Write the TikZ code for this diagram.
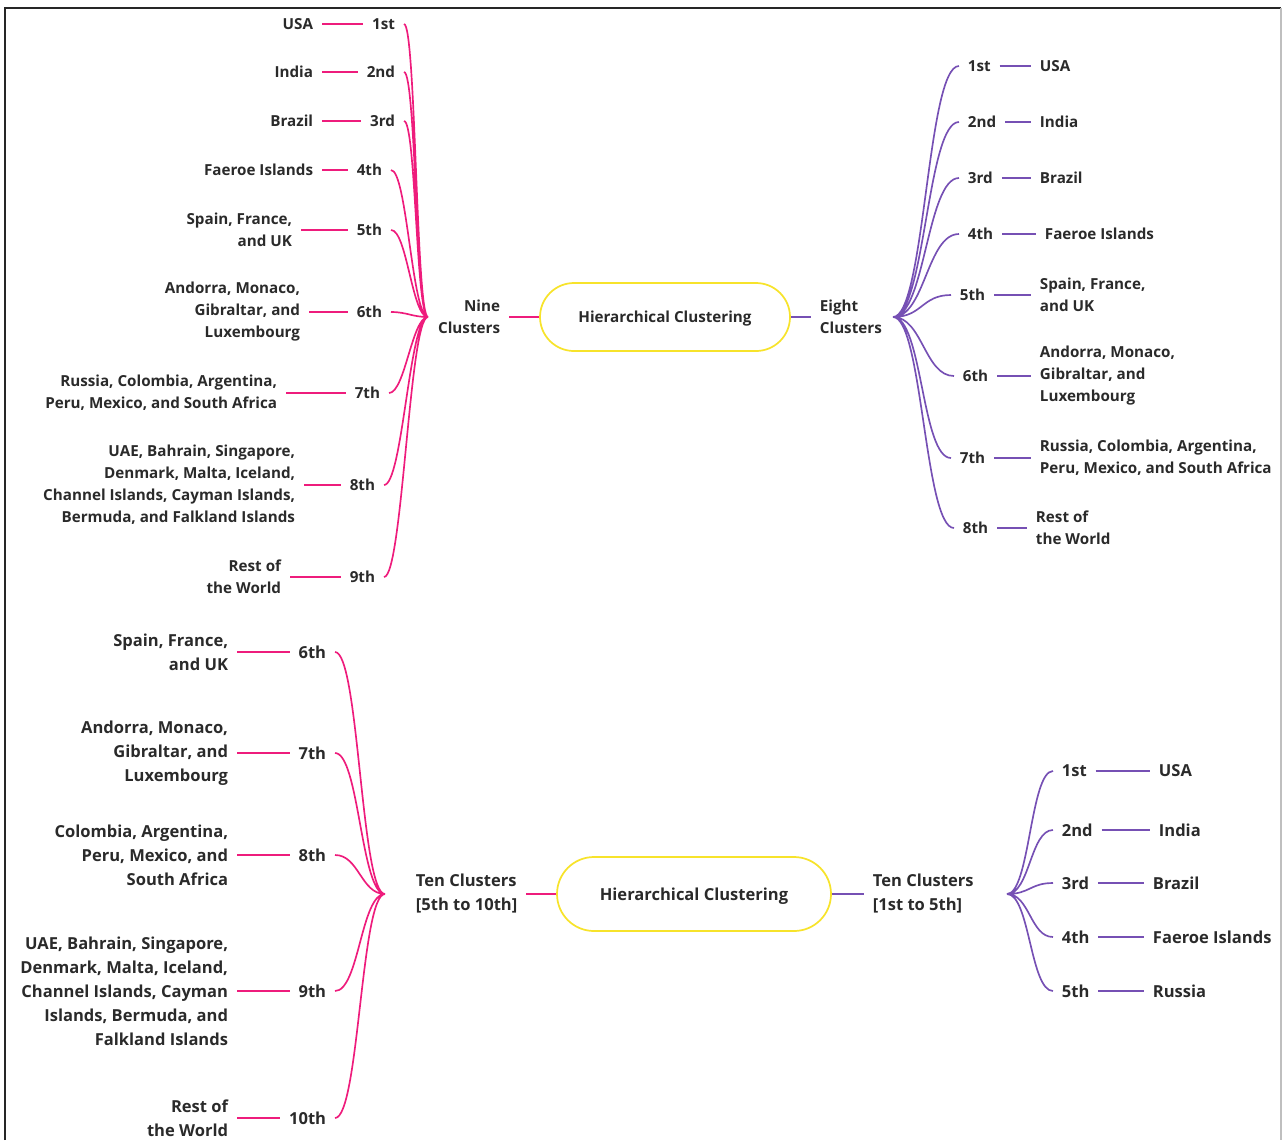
\documentclass[tikz,border=0pt]{standalone}
\usepackage{fontspec}
\setmainfont{Open Sans}
\usepackage{xcolor}
\definecolor{pinkline}{HTML}{EE1C7C}
\definecolor{purpline}{HTML}{7650B4}
\definecolor{hcyellow}{HTML}{F7E32B}
\definecolor{inkdark}{HTML}{2A2A2A}
\usepackage{tikz}
\usetikzlibrary{positioning}

\begin{document}
\begin{tikzpicture}[x=0.75pt, y=-0.75pt,
    lbl/.style={font=\bfseries\fontsize{11.4}{16.5}\selectfont, text=inkdark, inner xsep=6.5pt, inner ysep=2pt},
    lblbig/.style={lbl, font=\bfseries\fontsize{12.4}{18}\selectfont},
    hcnode/.style={draw=hcyellow, line width=1.3pt, inner sep=0pt, text=inkdark, text depth=0pt},
    pinkedge/.style={draw=pinkline, line width=1.25pt},
    purpedge/.style={draw=purpline, line width=1.25pt},
    fanl/.style={out=180, in=0, distance=#1},
    fanr/.style={out=0, in=180, distance=#1}]
  \useasboundingbox (0,0) rectangle (1282,1140);
  \draw[black!85, line width=0.9pt] (5,1140) -- (5,8) -- (1281,8);
  \draw[black!25, line width=0.9pt] (1281,8) -- (1281,1140);

  % Top: nine clusters (left) and eight clusters (right)
  \node[hcnode, lbl, rounded corners=25.5pt, minimum width=187.5pt, minimum height=51pt] (hc1) at (665,317) {Hierarchical Clustering};
  \node[lbl, anchor=east, align=right] (nine) at (509,317) {Nine\\Clusters};
  \node[lbl, anchor=west, align=left] (eight) at (811,317) {Eight\\Clusters};
  \coordinate (h9) at (428,317);
  \coordinate (h8) at (893,317);
  \draw[pinkedge] (nine.east) -- (hc1.west);
  \draw[purpedge] (hc1.east) -- (eight.west);

  \node[lbl, anchor=east] (n1) at (404,24) {1st};
  \node[lbl, anchor=east] (n2) at (404,72) {2nd};
  \node[lbl, anchor=east] (n3) at (404,121) {3rd};
  \node[lbl, anchor=east] (n4) at (391,170) {4th};
  \node[lbl, anchor=east] (n5) at (391,230) {5th};
  \node[lbl, anchor=east] (n6) at (391,312) {6th};
  \node[lbl, anchor=east] (n7) at (389,393) {7th};
  \node[lbl, anchor=east] (n8) at (384,485) {8th};
  \node[lbl, anchor=east] (n9) at (384,577) {9th};
  \node[lbl, anchor=east] (nc1) at (322,24) {USA};
  \node[lbl, anchor=east] (nc2) at (322,72) {India};
  \node[lbl, anchor=east] (nc3) at (322,121) {Brazil};
  \node[lbl, anchor=east] (nc4) at (322,170) {Faeroe Islands};
  \node[lbl, anchor=east, align=right] (nc5) at (301,230) {Spain, France,\\and UK};
  \node[lbl, anchor=east, align=right] (nc6) at (309,312) {Andorra, Monaco,\\Gibraltar, and\\Luxembourg};
  \node[lbl, anchor=east, align=right] (nc7) at (286,393) {Russia, Colombia, Argentina,\\Peru, Mexico, and South Africa};
  \node[lbl, anchor=east, align=right] (nc8) at (304,485) {UAE, Bahrain, Singapore,\\Denmark, Malta, Iceland,\\Channel Islands, Cayman Islands,\\Bermuda, and Falkland Islands};
  \node[lbl, anchor=east, align=right] (nc9) at (290,577) {Rest of\\the World};
  \draw[pinkedge] (nc1.east) -- (n1.west);
  \draw[pinkedge] (nc2.east) -- (n2.west);
  \draw[pinkedge] (nc3.east) -- (n3.west);
  \draw[pinkedge] (nc4.east) -- (n4.west);
  \draw[pinkedge] (nc5.east) -- (n5.west);
  \draw[pinkedge] (nc6.east) -- (n6.west);
  \draw[pinkedge] (nc7.east) -- (n7.west);
  \draw[pinkedge] (nc8.east) -- (n8.west);
  \draw[pinkedge] (nc9.east) -- (n9.west);
  \draw[pinkedge] (h9) to[fanl=9pt] (n1.east) (h9) to[fanl=9pt] (n2.east)
    (h9) to[fanl=9pt] (n3.east) (h9) to[fanl=12pt] (n4.east)
    (h9) to[fanl=12pt] (n5.east) (h9) to[fanl=12pt] (n6.east)
    (h9) to[fanl=12pt] (n7.east) (h9) to[fanl=14pt] (n8.east)
    (h9) to[fanl=14pt] (n9.east);

  \node[lbl, anchor=west] (e1) at (959,66) {1st};
  \node[lbl, anchor=west] (e2) at (959,122) {2nd};
  \node[lbl, anchor=west] (e3) at (959,178) {3rd};
  \node[lbl, anchor=west] (e4) at (959,234) {4th};
  \node[lbl, anchor=west] (e5) at (951,295) {5th};
  \node[lbl, anchor=west] (e6) at (954,376) {6th};
  \node[lbl, anchor=west] (e7) at (951,458) {7th};
  \node[lbl, anchor=west] (e8) at (954,528) {8th};
  \node[lbl, anchor=west] (ec1) at (1031,66) {USA};
  \node[lbl, anchor=west] (ec2) at (1031,122) {India};
  \node[lbl, anchor=west] (ec3) at (1031,178) {Brazil};
  \node[lbl, anchor=west] (ec4) at (1036,234) {Faeroe Islands};
  \node[lbl, anchor=west, align=left] (ec5) at (1031,295) {Spain, France,\\and UK};
  \node[lbl, anchor=west, align=left] (ec6) at (1031,376) {Andorra, Monaco,\\Gibraltar, and\\Luxembourg};
  \node[lbl, anchor=west, align=left] (ec7) at (1031,458) {Russia, Colombia, Argentina,\\Peru, Mexico, and South Africa};
  \node[lbl, anchor=west, align=left] (ec8) at (1027,528) {Rest of\\the World};
  \draw[purpedge] (e1.east) -- (ec1.west);
  \draw[purpedge] (e2.east) -- (ec2.west);
  \draw[purpedge] (e3.east) -- (ec3.west);
  \draw[purpedge] (e4.east) -- (ec4.west);
  \draw[purpedge] (e5.east) -- (ec5.west);
  \draw[purpedge] (e6.east) -- (ec6.west);
  \draw[purpedge] (e7.east) -- (ec7.west);
  \draw[purpedge] (e8.east) -- (ec8.west);
  \draw[purpedge] (h8) to[fanr=24pt] (e1.west) (h8) to[fanr=24pt] (e2.west)
    (h8) to[fanr=24pt] (e3.west) (h8) to[fanr=24pt] (e4.west)
    (h8) to[fanr=22pt] (e5.west) (h8) to[fanr=22pt] (e6.west)
    (h8) to[fanr=22pt] (e7.west) (h8) to[fanr=22pt] (e8.west);

  % Bottom: ten clusters, split in two halves
  \node[hcnode, lblbig, rounded corners=27.75pt, minimum width=205.5pt, minimum height=55.5pt] (hc2) at (694,894) {Hierarchical Clustering};
  \node[lblbig, anchor=west, align=left] (ten5) at (407,894) {Ten Clusters\\{[5th to 10th]}};
  \node[lblbig, anchor=west, align=left] (ten1) at (864,894) {Ten Clusters\\{[1st to 5th]}};
  \coordinate (h10) at (385,894);
  \coordinate (h11) at (1007,894);
  \draw[pinkedge] (ten5.east) -- (hc2.west);
  \draw[purpedge] (hc2.east) -- (ten1.west);

  \node[lblbig, anchor=east] (t6) at (335,652) {6th};
  \node[lblbig, anchor=east] (t7) at (335,753) {7th};
  \node[lblbig, anchor=east] (t8) at (335,855) {8th};
  \node[lblbig, anchor=east] (t9) at (335,991) {9th};
  \node[lblbig, anchor=east] (t10) at (335,1118) {10th};
  \node[lblbig, anchor=east, align=right] (tc6) at (237,652) {Spain, France,\\and UK};
  \node[lblbig, anchor=east, align=right] (tc7) at (237,753) {Andorra, Monaco,\\Gibraltar, and\\Luxembourg};
  \node[lblbig, anchor=east, align=right] (tc8) at (237,855) {Colombia, Argentina,\\Peru, Mexico, and\\South Africa};
  \node[lblbig, anchor=east, align=right] (tc9) at (237,991) {UAE, Bahrain, Singapore,\\Denmark, Malta, Iceland,\\Channel Islands, Cayman\\Islands, Bermuda, and\\Falkland Islands};
  \node[lblbig, anchor=east, align=right] (tc10) at (237,1118) {Rest of\\the World};
  \draw[pinkedge] (tc6.east) -- (t6.west);
  \draw[pinkedge] (tc7.east) -- (t7.west);
  \draw[pinkedge] (tc8.east) -- (t8.west);
  \draw[pinkedge] (tc9.east) -- (t9.west);
  \draw[pinkedge] (tc10.east) -- (t10.west);
  \draw[pinkedge] (h10) to[fanl=18pt] (t6.east) (h10) to[fanl=18pt] (t7.east)
    (h10) to[fanl=18pt] (t8.east) (h10) to[fanl=18pt] (t9.east)
    (h10) to[fanl=18pt] (t10.east);

  \node[lblbig, anchor=west] (f1) at (1053,771) {1st};
  \node[lblbig, anchor=west] (f2) at (1053,830) {2nd};
  \node[lblbig, anchor=west] (f3) at (1053,883) {3rd};
  \node[lblbig, anchor=west] (f4) at (1053,937) {4th};
  \node[lblbig, anchor=west] (f5) at (1053,991) {5th};
  \node[lblbig, anchor=west] (fc1) at (1150,771) {USA};
  \node[lblbig, anchor=west] (fc2) at (1150,830) {India};
  \node[lblbig, anchor=west] (fc3) at (1144,883) {Brazil};
  \node[lblbig, anchor=west] (fc4) at (1144,937) {Faeroe Islands};
  \node[lblbig, anchor=west] (fc5) at (1144,991) {Russia};
  \draw[purpedge] (f1.east) -- (fc1.west);
  \draw[purpedge] (f2.east) -- (fc2.west);
  \draw[purpedge] (f3.east) -- (fc3.west);
  \draw[purpedge] (f4.east) -- (fc4.west);
  \draw[purpedge] (f5.east) -- (fc5.west);
  \draw[purpedge] (h11) to[fanr=17pt] (f1.west) (h11) to[fanr=17pt] (f2.west)
    (h11) to[fanr=17pt] (f3.west) (h11) to[fanr=17pt] (f4.west)
    (h11) to[fanr=17pt] (f5.west);
\end{tikzpicture}
\end{document}
